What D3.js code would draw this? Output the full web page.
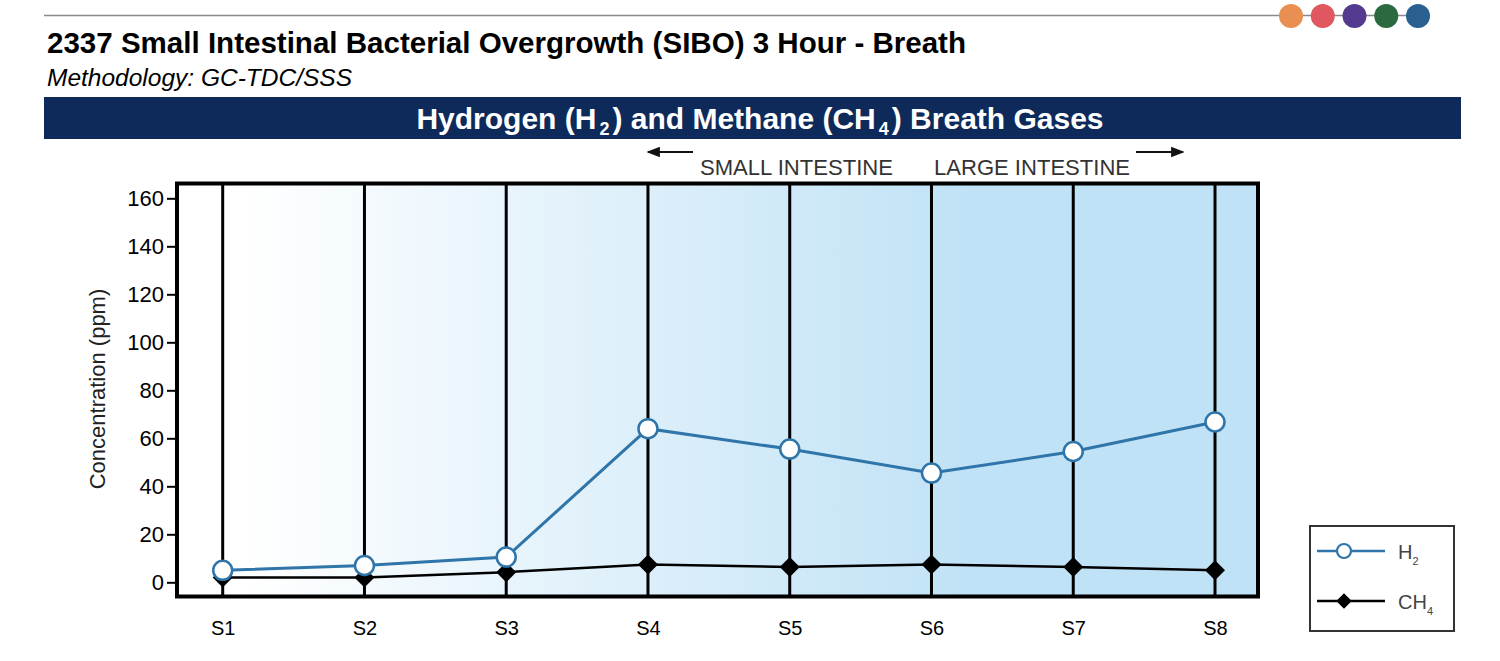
<!DOCTYPE html>
<html><head><meta charset="utf-8">
<script src="https://cdn.jsdelivr.net/npm/d3@7"></script>
<style>
html,body{margin:0;padding:0;background:#fff;}
svg{display:block;font-family:"Liberation Sans",Arial,sans-serif;}
</style></head>
<body>
<svg id="chart" width="1500" height="661"></svg>
<script>
const samples = ["S1","S2","S3","S4","S5","S6","S7","S8"];
const h2Values = [5, 7, 10.5, 64, 55.5, 45.5, 54.5, 66.8];
const ch4Values = [2, 2, 4.2, 7.4, 6.4, 7.4, 6.4, 5];
const yTicks = [0, 20, 40, 60, 80, 100, 120, 140, 160];
const dotColors = ["#ea8f52", "#e0575f", "#533a8e", "#2b6a40", "#2a5f92"];

const svg = d3.select("#chart");

// top rule and decorative dots
svg.append("line").attr("x1",44).attr("x2",1420).attr("y1",15.5).attr("y2",15.5)
  .attr("stroke","#8a8a8a").attr("stroke-width",1.5);
const dotX = d3.scalePoint().domain(d3.range(dotColors.length)).range([1291,1418]);
svg.selectAll("circle.dot").data(dotColors).join("circle").attr("class","dot")
  .attr("cx",(d,i)=>dotX(i)).attr("cy",16).attr("r",12).attr("fill",d=>d);

// titles
svg.append("text").attr("x",47).attr("y",53).attr("font-size",29).attr("font-weight","bold")
  .attr("fill","#000").attr("textLength",919).attr("lengthAdjust","spacingAndGlyphs")
  .text("2337 Small Intestinal Bacterial Overgrowth (SIBO) 3 Hour - Breath");
svg.append("text").attr("x",47).attr("y",86).attr("font-size",23).attr("font-style","italic")
  .attr("fill","#000").attr("textLength",305).attr("lengthAdjust","spacingAndGlyphs")
  .text("Methodology: GC-TDC/SSS");

// header band
svg.append("rect").attr("x",44).attr("y",97).attr("width",1417).attr("height",42).attr("fill","#0e2a5a");
const ht = svg.append("text").attr("x",760).attr("y",129).attr("text-anchor","middle")
  .attr("font-size",30).attr("font-weight","bold").attr("fill","#fff");
ht.append("tspan").text("Hydrogen (H");
ht.append("tspan").attr("font-size",18).attr("dy",6).attr("dx",3).text("2");
ht.append("tspan").attr("dy",-6).attr("dx",3).text(") and Methane (CH");
ht.append("tspan").attr("font-size",18).attr("dy",6).attr("dx",3).text("4");
ht.append("tspan").attr("dy",-6).attr("dx",3).text(") Breath Gases");

// scales
const x = d3.scalePoint().domain(samples).range([222.7, 1215]);
const y = d3.scaleLinear().domain([0,160]).range([582.3, 198.3]);
const frame = {x0:177, x1:1258, y0:183.5, y1:596.5};

// gradient background
const defs = svg.append("defs");
const grad = defs.append("linearGradient").attr("id","bg").attr("gradientUnits","userSpaceOnUse")
  .attr("x1",frame.x0).attr("x2",frame.x1).attr("y1",0).attr("y2",0);
grad.append("stop").attr("offset",(x("S1")+20-frame.x0)/(frame.x1-frame.x0)).attr("stop-color","#ffffff");
grad.append("stop").attr("offset",(x("S6")+40-frame.x0)/(frame.x1-frame.x0)).attr("stop-color","#c0e2f6");
grad.append("stop").attr("offset",1).attr("stop-color","#c0e2f6");
svg.append("rect").attr("x",frame.x0).attr("y",frame.y0).attr("width",frame.x1-frame.x0)
  .attr("height",frame.y1-frame.y0).attr("fill","url(#bg)");

// vertical sample lines
svg.selectAll("line.vl").data(samples).join("line").attr("class","vl")
  .attr("x1",d=>x(d)).attr("x2",d=>x(d)).attr("y1",frame.y0).attr("y2",frame.y1)
  .attr("stroke","#000").attr("stroke-width",3);

// frame
svg.append("rect").attr("x",frame.x0).attr("y",frame.y0).attr("width",frame.x1-frame.x0)
  .attr("height",frame.y1-frame.y0).attr("fill","none").attr("stroke","#000").attr("stroke-width",4);

// y axis
const yAxis = svg.append("g").attr("transform",`translate(${frame.x0-2},0)`)
  .call(d3.axisLeft(y).tickValues(yTicks).tickSize(8).tickPadding(3));
yAxis.select(".domain").remove();
yAxis.selectAll(".tick line").attr("stroke","#000").attr("stroke-width",2);
yAxis.selectAll(".tick text").attr("font-size",22).attr("fill","#000")
  .attr("font-family","'Liberation Sans',Arial,sans-serif");

svg.append("text").attr("transform","translate(105,389) rotate(-90)").attr("text-anchor","middle")
  .attr("font-size",22).attr("fill","#222").text("Concentration (ppm)");

// x axis labels
const xAxis = svg.append("g").attr("transform",`translate(0,${frame.y1})`)
  .call(d3.axisBottom(x).tickSize(0).tickPadding(24));
xAxis.select(".domain").remove();
xAxis.selectAll(".tick text").attr("font-size",20).attr("fill","#000")
  .attr("font-family","'Liberation Sans',Arial,sans-serif");

// intestine labels and arrows
defs.append("marker").attr("id","arr").attr("viewBox","0 0 10 10").attr("refX",9).attr("refY",5)
  .attr("markerWidth",6).attr("markerHeight",6).attr("orient","auto-start-reverse")
  .append("path").attr("d","M0,1 L10,5 L0,9 Z").attr("fill","#111");
svg.append("line").attr("x1",693).attr("x2",648).attr("y1",152).attr("y2",152)
  .attr("stroke","#111").attr("stroke-width",2.2).attr("marker-end","url(#arr)");
svg.append("line").attr("x1",1136).attr("x2",1183).attr("y1",152).attr("y2",152)
  .attr("stroke","#111").attr("stroke-width",2.2).attr("marker-end","url(#arr)");
svg.append("text").attr("x",700).attr("y",175).attr("font-size",22).attr("fill","#333")
  .attr("textLength",193).attr("lengthAdjust","spacingAndGlyphs").text("SMALL INTESTINE");
svg.append("text").attr("x",934).attr("y",175).attr("font-size",22).attr("fill","#333")
  .attr("textLength",196).attr("lengthAdjust","spacingAndGlyphs").text("LARGE INTESTINE");

// series
const h2 = samples.map((s,i)=>({s, v:h2Values[i]}));
const ch4 = samples.map((s,i)=>({s, v:ch4Values[i]}));
const line = d3.line().x(d=>x(d.s)).y(d=>y(d.v));
svg.append("path").datum(ch4).attr("d",line).attr("fill","none").attr("stroke","#000").attr("stroke-width",2.5);
svg.append("path").datum(h2).attr("d",line).attr("fill","none").attr("stroke","#2f75a9").attr("stroke-width",3);
const diamond = d3.symbol().type(d3.symbolSquare).size(200);
svg.selectAll("path.ch4").data(ch4).join("path").attr("class","ch4")
  .attr("d",diamond).attr("transform",d=>`translate(${x(d.s)},${y(d.v)}) rotate(45)`).attr("fill","#000");
svg.selectAll("circle.h2").data(h2).join("circle").attr("class","h2")
  .attr("cx",d=>x(d.s)).attr("cy",d=>y(d.v)).attr("r",9.5)
  .attr("fill","#fff").attr("stroke","#2f75a9").attr("stroke-width",2.5);

// legend
const lg = svg.append("g");
lg.append("rect").attr("x",1310).attr("y",526).attr("width",144).attr("height",105)
  .attr("fill","#fff").attr("stroke","#333").attr("stroke-width",2);
lg.append("line").attr("x1",1317).attr("x2",1385).attr("y1",551).attr("y2",551).attr("stroke","#2f75a9").attr("stroke-width",2.5);
lg.append("circle").attr("cx",1344).attr("cy",551).attr("r",7).attr("fill","#fff").attr("stroke","#2f75a9").attr("stroke-width",2.2);
lg.append("line").attr("x1",1317).attr("x2",1385).attr("y1",601).attr("y2",601).attr("stroke","#000").attr("stroke-width",2.5);
lg.append("path").attr("d",d3.symbol().type(d3.symbolSquare).size(120)).attr("transform","translate(1344,601) rotate(45)").attr("fill","#000");
const l1 = lg.append("text").attr("x",1398).attr("y",559).attr("font-size",20).attr("fill","#444");
l1.append("tspan").text("H");
l1.append("tspan").attr("font-size",11).attr("dy",6).text("2");
const l2 = lg.append("text").attr("x",1398).attr("y",609).attr("font-size",20).attr("fill","#444");
l2.append("tspan").text("CH");
l2.append("tspan").attr("font-size",11).attr("dy",6).text("4");
</script>
</body></html>
